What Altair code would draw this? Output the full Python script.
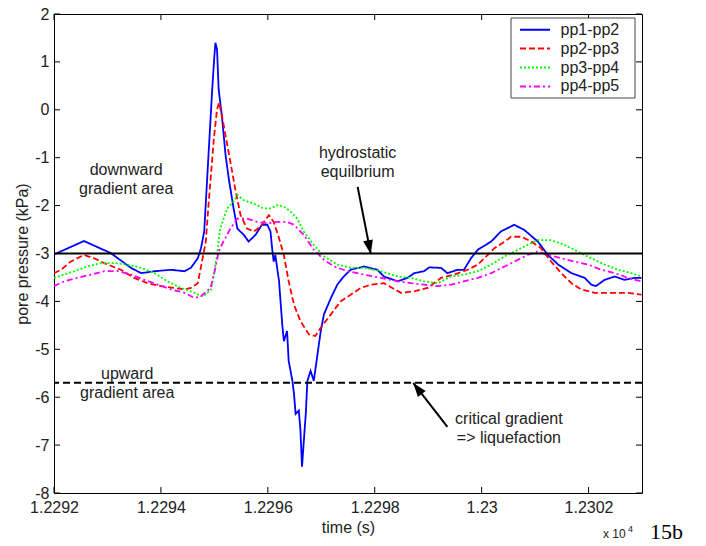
import altair as alt
import pandas as pd

# ---------------- data ----------------
x_ticks = [12292, 12294, 12296, 12298, 12300, 12302]
y_ticks = [-8, -7, -6, -5, -4, -3, -2, -1, 0, 1, 2]

series_names = ["pp1-pp2", "pp2-pp3", "pp3-pp4", "pp4-pp5"]
series_colors = ["#0000ff", "#ff0000", "#00ff00", "#ff00ff"]
series_dashes = [[1, 0], [6, 3], [2, 2], [6, 3, 2, 3]]

blue_t = [12292.00, 12292.56, 12293.06, 12293.44, 12293.63, 12293.88, 12294.19, 12294.44, 12294.56, 12294.69,
          12294.75, 12294.81, 12294.89, 12294.96, 12295.00, 12295.02, 12295.05, 12295.08, 12295.14, 12295.21,
          12295.27, 12295.36, 12295.43, 12295.55, 12295.64, 12295.77, 12295.89, 12295.99, 12296.05, 12296.08,
          12296.11, 12296.14, 12296.21, 12296.27, 12296.30, 12296.36, 12296.39, 12296.46, 12296.49, 12296.52,
          12296.58, 12296.61, 12296.64, 12296.67, 12296.71, 12296.74, 12296.80, 12296.86, 12296.93, 12296.99,
          12297.05, 12297.18, 12297.30, 12297.42, 12297.55, 12297.80, 12298.05, 12298.17, 12298.43, 12298.61,
          12298.74, 12298.92, 12299.02, 12299.24, 12299.36, 12299.55, 12299.67, 12299.80, 12299.93, 12300.18,
          12300.36, 12300.61, 12300.80, 12301.05, 12301.24, 12301.43, 12301.68, 12301.93, 12302.05, 12302.14,
          12302.30, 12302.49, 12302.67, 12302.86, 12302.99]
blue_v = [-3.02, -2.74, -2.99, -3.30, -3.41, -3.37, -3.34, -3.37, -3.30, -3.10,
          -2.89, -2.54, -0.95, 0.43, 1.12, 1.40, 1.26, 0.43, -0.12, -0.95,
          -1.44, -2.06, -2.48, -2.61, -2.75, -2.61, -2.40, -2.40, -2.54, -2.89,
          -3.17, -3.03, -3.58, -4.48, -4.83, -4.62, -5.24, -5.66, -5.93, -6.35,
          -6.28, -6.69, -7.45, -6.97, -6.35, -5.66, -5.45, -5.66, -5.10, -4.62,
          -4.27, -3.93, -3.65, -3.48, -3.34, -3.27, -3.34, -3.48, -3.58, -3.51,
          -3.41, -3.37, -3.29, -3.30, -3.41, -3.34, -3.34, -3.10, -2.92, -2.75,
          -2.54, -2.40, -2.51, -2.75, -3.03, -3.23, -3.41, -3.51, -3.65, -3.68,
          -3.55, -3.48, -3.55, -3.51, -3.51]

red_t = [12292.00, 12292.13, 12292.31, 12292.56, 12292.75, 12292.94, 12293.25, 12293.50, 12293.75, 12294.00,
         12294.25, 12294.44, 12294.56, 12294.69, 12294.78, 12294.84, 12294.89, 12294.99, 12295.05, 12295.09,
         12295.14, 12295.21, 12295.30, 12295.39, 12295.49, 12295.61, 12295.74, 12295.86, 12296.02, 12296.11,
         12296.21, 12296.30, 12296.39, 12296.49, 12296.61, 12296.77, 12296.89, 12296.99, 12297.18, 12297.36,
         12297.55, 12297.74, 12297.93, 12298.17, 12298.49, 12298.74, 12298.99, 12299.24, 12299.49, 12299.74,
         12299.93, 12300.05, 12300.24, 12300.43, 12300.55, 12300.74, 12300.93, 12301.11, 12301.30, 12301.49,
         12301.68, 12301.86, 12302.11, 12302.43, 12302.74, 12302.99]
red_v = [-3.41, -3.34, -3.17, -3.03, -3.10, -3.20, -3.34, -3.51, -3.62, -3.68,
         -3.72, -3.75, -3.72, -3.62, -3.10, -2.75, -1.99, -0.61, 0.01, 0.15,
         -0.12, -0.54, -1.09, -1.65, -2.20, -2.48, -2.54, -2.44, -2.20, -2.34,
         -2.68, -3.03, -3.58, -4.07, -4.41, -4.69, -4.72, -4.55, -4.27, -4.00,
         -3.86, -3.72, -3.65, -3.62, -3.82, -3.79, -3.72, -3.51, -3.44, -3.34,
         -3.23, -3.10, -2.89, -2.75, -2.65, -2.65, -2.75, -2.89, -3.17, -3.41,
         -3.62, -3.75, -3.82, -3.82, -3.82, -3.86]

green_t = [12292.00, 12292.19, 12292.38, 12292.62, 12292.88, 12293.13, 12293.37, 12293.63, 12293.88, 12294.12,
           12294.38, 12294.63, 12294.75, 12294.80, 12294.94, 12295.05, 12295.11, 12295.24, 12295.36, 12295.43,
           12295.55, 12295.74, 12295.92, 12296.05, 12296.18, 12296.30, 12296.43, 12296.55, 12296.67, 12296.86,
           12297.05, 12297.30, 12297.55, 12297.80, 12298.11, 12298.43, 12298.68, 12298.92, 12299.18, 12299.43,
           12299.67, 12299.93, 12300.18, 12300.43, 12300.61, 12300.86, 12301.05, 12301.30, 12301.55, 12301.80,
           12302.05, 12302.30, 12302.55, 12302.80, 12302.99]
green_v = [-3.51, -3.44, -3.37, -3.27, -3.20, -3.20, -3.23, -3.30, -3.41, -3.58,
           -3.72, -3.82, -3.89, -3.89, -3.75, -3.03, -2.48, -2.06, -1.92, -1.78,
           -1.89, -1.96, -2.06, -2.06, -1.99, -2.02, -2.13, -2.27, -2.54, -2.82,
           -3.06, -3.23, -3.30, -3.30, -3.37, -3.48, -3.51, -3.58, -3.62, -3.48,
           -3.44, -3.37, -3.23, -3.06, -2.96, -2.82, -2.72, -2.72, -2.82, -2.96,
           -3.10, -3.23, -3.34, -3.41, -3.48]

magenta_t = [12292.00, 12292.19, 12292.44, 12292.69, 12292.94, 12293.19, 12293.44, 12293.69, 12293.94, 12294.19,
             12294.44, 12294.63, 12294.75, 12294.93, 12295.02, 12295.08, 12295.17, 12295.30, 12295.43, 12295.61,
             12295.80, 12295.99, 12296.18, 12296.36, 12296.49, 12296.67, 12296.86, 12297.05, 12297.24, 12297.49,
             12297.80, 12298.11, 12298.43, 12298.68, 12298.92, 12299.18, 12299.43, 12299.67, 12299.93, 12300.18,
             12300.43, 12300.61, 12300.86, 12301.05, 12301.24, 12301.49, 12301.74, 12301.99, 12302.24, 12302.49,
             12302.74, 12302.99]
magenta_v = [-3.68, -3.58, -3.51, -3.44, -3.37, -3.37, -3.44, -3.55, -3.65, -3.75,
             -3.82, -3.93, -3.89, -3.72, -3.30, -2.96, -2.75, -2.48, -2.27, -2.27,
             -2.34, -2.37, -2.34, -2.34, -2.40, -2.61, -2.92, -3.13, -3.27, -3.37,
             -3.44, -3.51, -3.58, -3.62, -3.65, -3.68, -3.65, -3.58, -3.51, -3.41,
             -3.27, -3.17, -3.03, -2.96, -3.03, -3.10, -3.17, -3.23, -3.34, -3.41,
             -3.51, -3.58]

hydro_level = [-3.0]
critical_level = [-5.7]

# annotation anchors (first text line)
ann_t = [12293.35, 12297.68, 12293.37, 12300.51]
ann_v = [-1.257, -0.898, -5.517, -6.45]
ann_text = ["downward\ngradient area", "hydrostatic\nequilbrium", "upward\ngradient area",
            "critical gradient\n=> liquefaction"]

arrow_t0 = [12297.68, 12299.36]
arrow_v0 = [-1.61, -6.62]
arrow_t1 = [12297.925, 12298.72]
arrow_v1 = [-3.0, -5.70]
head_t = [12297.90, 12298.80]
head_v = [-2.87, -5.82]
head_angle = [168.8, 322.2]

# ---------------- chart ----------------
W, H = 588, 479
FONT = "Liberation Sans"
TXT = "#222222"
xs = alt.Scale(domain=[12292, 12303], nice=False, zero=False)
ys = alt.Scale(domain=[-8, 2], nice=False, zero=False)

x_axis = alt.Axis(
    values=x_ticks, labelExpr="format(datum.value / 10000, '.4~f')",
    title="time (s)", titleX=W / 2, titleY=39.5, titleBaseline="alphabetic",
    titleAlign="center", labelPadding=6, labelBaseline="top")
y_axis = alt.Axis(
    values=y_ticks, labelExpr="'' + datum.value",
    title="pore pressure (kPa)", titleX=-27, titleY=239.5, titleAngle=270,
    titleBaseline="alphabetic", titleAlign="center", labelPadding=5)


def X(field):
    return alt.X(field, scale=xs, axis=x_axis)


def Y(field):
    return alt.Y(field, scale=ys, axis=y_axis)


rows = []
for name, ts, vs in zip(series_names, [blue_t, red_t, green_t, magenta_t],
                        [blue_v, red_v, green_v, magenta_v]):
    for t, v in zip(ts, vs):
        rows.append({"series": name, "t": t, "v": v})
df = pd.DataFrame(rows)

lines = alt.Chart(df).mark_line(strokeWidth=1.8, clip=True).encode(
    x=X("t:Q"),
    y=Y("v:Q"),
    color=alt.Color("series:N", scale=alt.Scale(domain=series_names, range=series_colors), legend=None),
    strokeDash=alt.StrokeDash("series:N", scale=alt.Scale(domain=series_names, range=series_dashes),
                              legend=None),
)

hline = alt.Chart(pd.DataFrame({"v": hydro_level})).mark_rule(color="black", strokeWidth=2).encode(
    y=Y("v:Q"))
cline = alt.Chart(pd.DataFrame({"v": critical_level})).mark_rule(
    color="black", strokeWidth=2, strokeDash=[7, 4]).encode(y=Y("v:Q"))

yt = pd.DataFrame({"v": y_ticks})
xt = pd.DataFrame({"t": x_ticks})
TK = 6
tick_l = alt.Chart(yt).mark_rule(color="black").encode(
    y=Y("v:Q"), x=alt.value(0), x2=alt.value(TK))
tick_r = alt.Chart(yt).mark_rule(color="black").encode(
    y=Y("v:Q"), x=alt.value(W - TK), x2=alt.value(W))
tick_b = alt.Chart(xt).mark_rule(color="black").encode(
    x=X("t:Q"), y=alt.value(H - TK), y2=alt.value(H))
tick_t = alt.Chart(xt).mark_rule(color="black").encode(
    x=X("t:Q"), y=alt.value(0), y2=alt.value(TK))

ann = alt.Chart(pd.DataFrame({"t": ann_t, "v": ann_v, "label": ann_text})).mark_text(
    font=FONT, fontSize=16, lineBreak="\n", lineHeight=19, align="center", baseline="middle",
    color=TXT).encode(x=X("t:Q"), y=Y("v:Q"), text="label:N")

arrows = alt.Chart(pd.DataFrame({"t0": arrow_t0, "v0": arrow_v0, "t1": arrow_t1, "v1": arrow_v1})).mark_rule(
    color="black", strokeWidth=2).encode(x=X("t0:Q"), y=Y("v0:Q"), x2="t1:Q", y2="v1:Q")
heads = alt.Chart(pd.DataFrame({"t": head_t, "v": head_v, "a": head_angle})).mark_point(
    shape="M0,-1L0.7,1L-0.7,1Z", filled=True, color="black", size=196, opacity=1).encode(
    x=X("t:Q"), y=Y("v:Q"), angle=alt.Angle("a:Q", scale=None))

one = pd.DataFrame({"a": [0]})
legend_layers = [alt.Chart(one).mark_rect(fill="white", stroke="#444444", strokeWidth=1).encode(
    x=alt.value(457), x2=alt.value(581), y=alt.value(4), y2=alt.value(84))]
for i, (name, col, dash) in enumerate(zip(series_names, series_colors, series_dashes)):
    yy = 15.7 + 18.9 * i
    legend_layers.append(alt.Chart(one).mark_rule(color=col, strokeWidth=2, strokeDash=dash).encode(
        x=alt.value(466), x2=alt.value(496), y=alt.value(yy)))
    legend_layers.append(alt.Chart(pd.DataFrame({"label": [name]})).mark_text(
        font=FONT, fontSize=16, align="left", baseline="middle", color=TXT).encode(
        x=alt.value(506.5), y=alt.value(yy), text="label:N"))

foot = [
    alt.Chart(pd.DataFrame({"label": ["x 10"]})).mark_text(
        font=FONT, fontSize=12, align="left", baseline="alphabetic", color=TXT).encode(
        x=alt.value(549), y=alt.value(H + 44.5), text="label:N"),
    alt.Chart(pd.DataFrame({"label": ["4"]})).mark_text(
        font=FONT, fontSize=9, align="left", baseline="alphabetic", color=TXT).encode(
        x=alt.value(574), y=alt.value(H + 38.5), text="label:N"),
    alt.Chart(pd.DataFrame({"label": ["15b"]})).mark_text(
        font="Liberation Serif", fontSize=22, align="left", baseline="alphabetic", color="black").encode(
        x=alt.value(596), y=alt.value(H + 45.5), text="label:N"),
]

chart = alt.layer(lines, hline, cline, tick_l, tick_r, tick_b, tick_t, arrows, heads, ann,
                  *legend_layers, *foot).properties(
    width=W, height=H,
    autosize=alt.AutoSizeParams(type="none"),
    padding={"left": 46, "top": 6, "right": 56, "bottom": 49},
    background="white",
).configure_view(stroke="black", strokeWidth=1).configure_axis(
    grid=False, domain=False, ticks=False, tickSize=0,
    labelFont=FONT, labelFontSize=16, labelColor=TXT,
    titleFont=FONT, titleFontSize=16, titleFontWeight="normal", titleColor=TXT,
    labelOverlap=False, labelFlush=False,
)

chart.save("out.html", embed_options={"renderer": "svg", "actions": False})
